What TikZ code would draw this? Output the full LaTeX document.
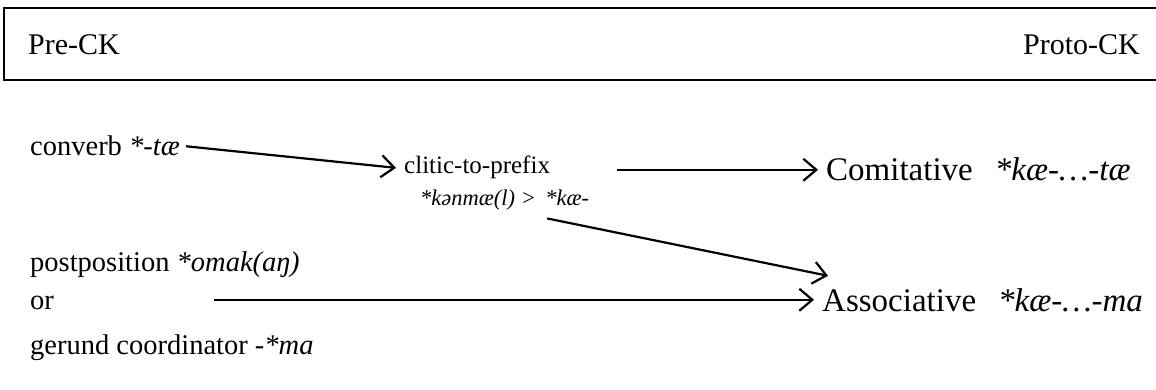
\documentclass[tikz,border=0pt]{standalone}
\usepackage{fontspec}
\setmainfont{Liberation Serif}
\usetikzlibrary{arrows.meta,calc}
\begin{document}
\begin{tikzpicture}[x=1pt,y=-1pt,
  txt/.style={inner sep=0pt, anchor=base west, font=\fontsize{28.5}{32}\selectfont},
  big/.style={inner sep=0pt, anchor=base west, font=\fontsize{33}{38}\selectfont},
  hdr/.style={inner sep=0pt, font=\fontsize{30}{36}\selectfont},
  small/.style={inner sep=0pt, anchor=base west, font=\fontsize{25}{30}\selectfont},
  ital/.style={inner sep=0pt, anchor=base west, font=\itshape\fontsize{22.5}{27}\selectfont},
  arr/.style={line width=2.2pt, -{Straight Barb[length=13pt,width=22pt]}},
  frame/.style={line width=2.2pt}]
\useasboundingbox (0,0) rectangle (1156,390);
\clip (0,0) rectangle (1156,390);
\draw[frame] (1170,8) -- (4,8) -- (4,80) -- (1170,80);
\node[hdr, anchor=base west] (pre) at (28,55) {Pre-CK};
\node[hdr, anchor=base east] (proto) at (1140,55) {Proto-CK};
\node[txt] (conv) at (30,156) {converb \textit{*-tæ}};
\node[small] (clitic) at (404,174) {clitic-to-prefix};
\node[ital] (kon) at (420,206) {*kənmæ(l) >};
\node[ital, anchor=base west] (kae) at ($(kon.base east)+(9,0)$) {*kæ-};
\node[big] (comit) at (826,181) {Comitative\hspace{22pt}\textit{*kæ-…-tæ}};
\node[txt] (post) at (30,271) {postposition \textit{*omak(aŋ)}};
\node[txt] (or) at (30,309) {or};
\node[big] (assoc) at (822,311) {Associative\hspace{22pt}\textit{*kæ-…-ma}};
\node[txt] (ger) at (30,354) {gerund coordinator -\textit{*ma}};
\draw[arr] ([xshift=6pt]conv.east) -- ([xshift=-8pt]clitic.west);
\draw[arr] ($(clitic.east |- comit.west)+(67,0)$) -- ([xshift=-8pt]comit.west);
\draw[arr] ($(kae.south west)+(2,12)$) -- ($(assoc.west)+(6,-24)$);
\draw[arr] ($(or.east |- assoc.west)+(160,0)$) -- ([xshift=-8pt]assoc.west);
\end{tikzpicture}
\end{document}
